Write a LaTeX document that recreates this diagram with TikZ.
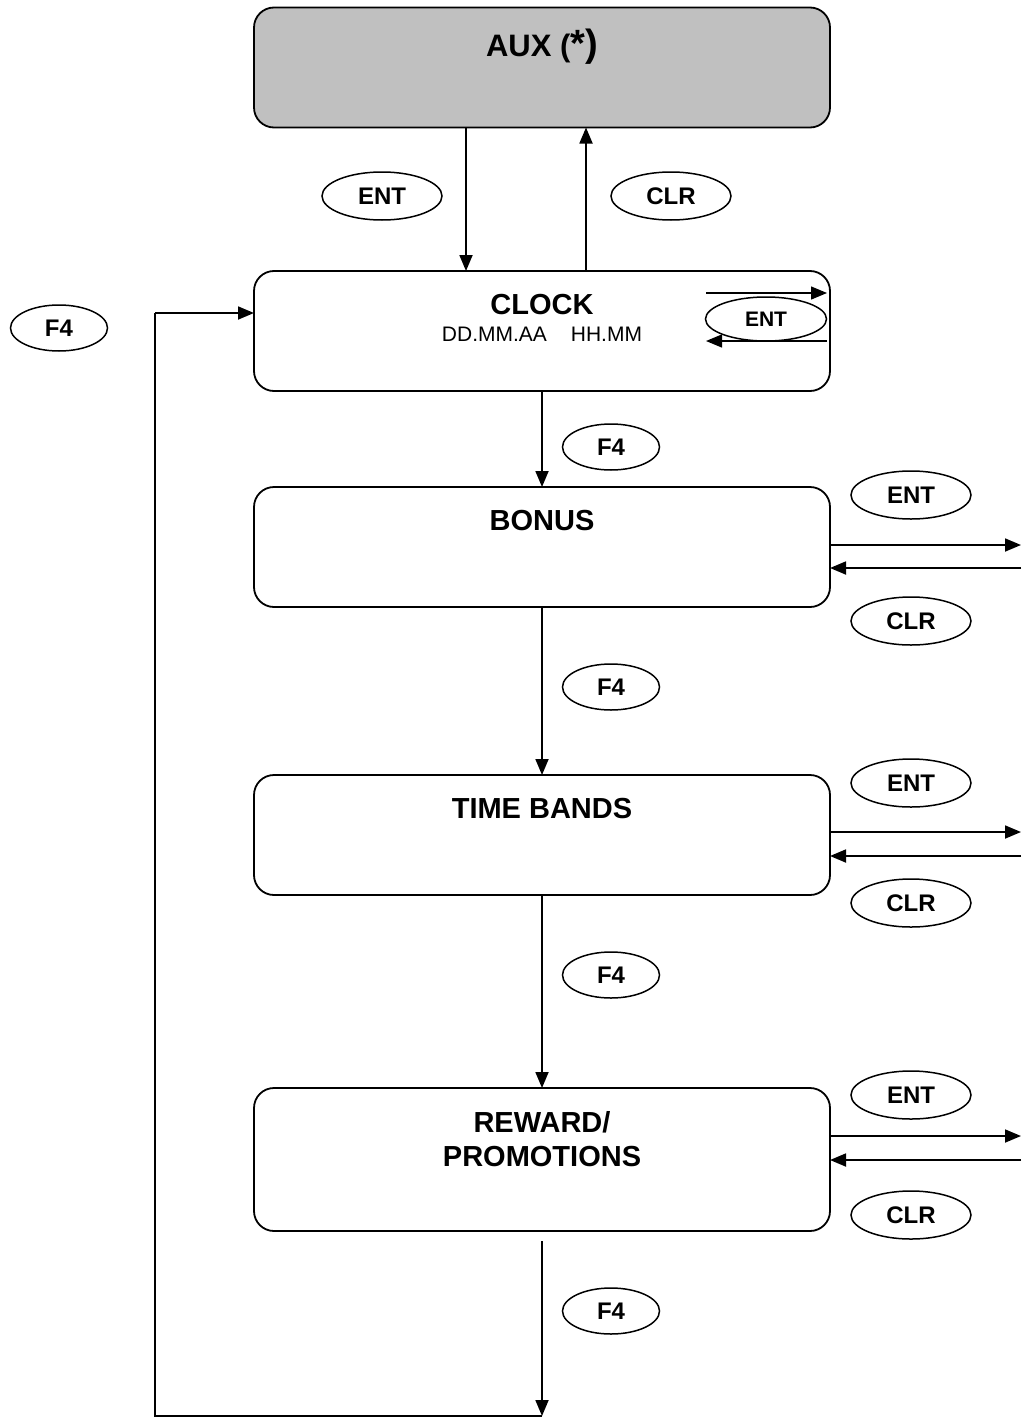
\documentclass[tikz,border=0pt]{standalone}
\usepackage{fontspec}
\setmainfont{Liberation Sans}
\usetikzlibrary{arrows.meta,shapes.geometric}
\definecolor{auxgray}{RGB}{192,192,192}
\begin{document}
\begin{tikzpicture}[x=1pt,y=-1pt,
  box/.style={draw,line width=1.8pt,rounded corners=20pt,minimum width=576pt,minimum height=120pt,outer sep=0pt,inner sep=0pt},
  title/.style={font=\bfseries\fontsize{29}{34}\selectfont,align=center,inner sep=0pt},
  key/.style={draw,ellipse,line width=1.5pt,minimum width=120pt,minimum height=48pt,inner sep=0pt,font=\bfseries\fontsize{24}{28}\selectfont},
  keyf/.style={key,minimum width=97pt,minimum height=46pt},
  arr/.style={line width=1.8pt,-{Triangle[length=16pt,width=13pt]}},
  ln/.style={line width=1.8pt}]
\path[use as bounding box] (0,0) rectangle (1021,1418);

% boxes
\node[box,fill=auxgray] (aux) at (542,67.5) {};
\node[title,font=\bfseries\fontsize{31}{36}\selectfont] (auxt) at (542,47) {AUX (\fontsize{38}{44}\selectfont*)};
\node[box] (clock) at (542,331) {};
\node[title] (clockt) at (542,305) {CLOCK};
\node[inner sep=0pt,font=\fontsize{21}{25}\selectfont] (clocks) at (542,334) {DD.MM.AA\hspace{24pt}HH.MM};
\node[box] (bonus) at (542,547) {};
\node[title] (bonust) at (542,521) {BONUS};
\node[box] (bands) at (542,835) {};
\node[title] (bandst) at (542,809) {TIME BANDS};
\node[box,minimum height=143pt] (reward) at (542,1159.5) {};
\node[title] (rewardt) at (542,1139) {REWARD/\\PROMOTIONS};

% keys
\node[key] (ent0) at (382,196) {ENT};
\node[key] (clr0) at (671,196) {CLR};
\node[keyf] (f4l) at (59,328) {F4};
\node[key,minimum width=121pt,minimum height=44pt,font=\bfseries\fontsize{21}{25}\selectfont] (entc) at (766,319) {ENT};
\node[keyf] (f41) at (611,447) {F4};
\node[key] (ent1) at (911,495) {ENT};
\node[key] (clr1) at (911,621) {CLR};
\node[keyf] (f42) at (611,687) {F4};
\node[key] (ent2) at (911,783) {ENT};
\node[key] (clr2) at (911,903) {CLR};
\node[keyf] (f43) at (611,975) {F4};
\node[key] (ent3) at (911,1095) {ENT};
\node[key] (clr3) at (911,1215) {CLR};
\node[keyf] (f44) at (611,1311) {F4};

% AUX <-> CLOCK
\coordinate (xd) at (466,0);
\coordinate (xu) at (586,0);
\draw[arr] (aux.south -| xd) -- (clock.north -| xd);
\draw[arr] (clock.north -| xu) -- (aux.south -| xu);

% CLOCK ENT loop arrows
\coordinate (ca1) at (706,293);
\coordinate (ca2) at (827,293);
\coordinate (cb1) at (827,341);
\coordinate (cb2) at (706,341);
\draw[arr,line width=1.4pt] (ca1) -- (ca2);
\draw[arr,line width=1.4pt] (cb1) -- (cb2);

% vertical chain
\draw[arr] (clock.south) -- (bonus.north);
\draw[arr] (bonus.south) -- (bands.north);
\draw[arr] (bands.south) -- (reward.north);

% side arrows
\coordinate (r1a) at (1021,545);
\coordinate (r1b) at (1021,568);
\coordinate (r2a) at (1021,832);
\coordinate (r2b) at (1021,856);
\coordinate (r3a) at (1021,1136);
\coordinate (r3b) at (1021,1160);
\draw[arr] (bonus.east |- r1a) -- (r1a);
\draw[arr] (r1b) -- (bonus.east |- r1b);
\draw[arr] (bands.east |- r2a) -- (r2a);
\draw[arr] (r2b) -- (bands.east |- r2b);
\draw[arr] (reward.east |- r3a) -- (r3a);
\draw[arr] (r3b) -- (reward.east |- r3b);

% return loop
\coordinate (bs) at (542,1241);
\coordinate (be) at (542,1416);
\coordinate (lb) at (155,1416);
\coordinate (lt) at (155,313);
\draw[arr] (bs) -- (be);
\draw[ln] (be) -- (lb) -- (lt);
\draw[arr] (lt) -- (lt -| clock.west);
\end{tikzpicture}
\end{document}
